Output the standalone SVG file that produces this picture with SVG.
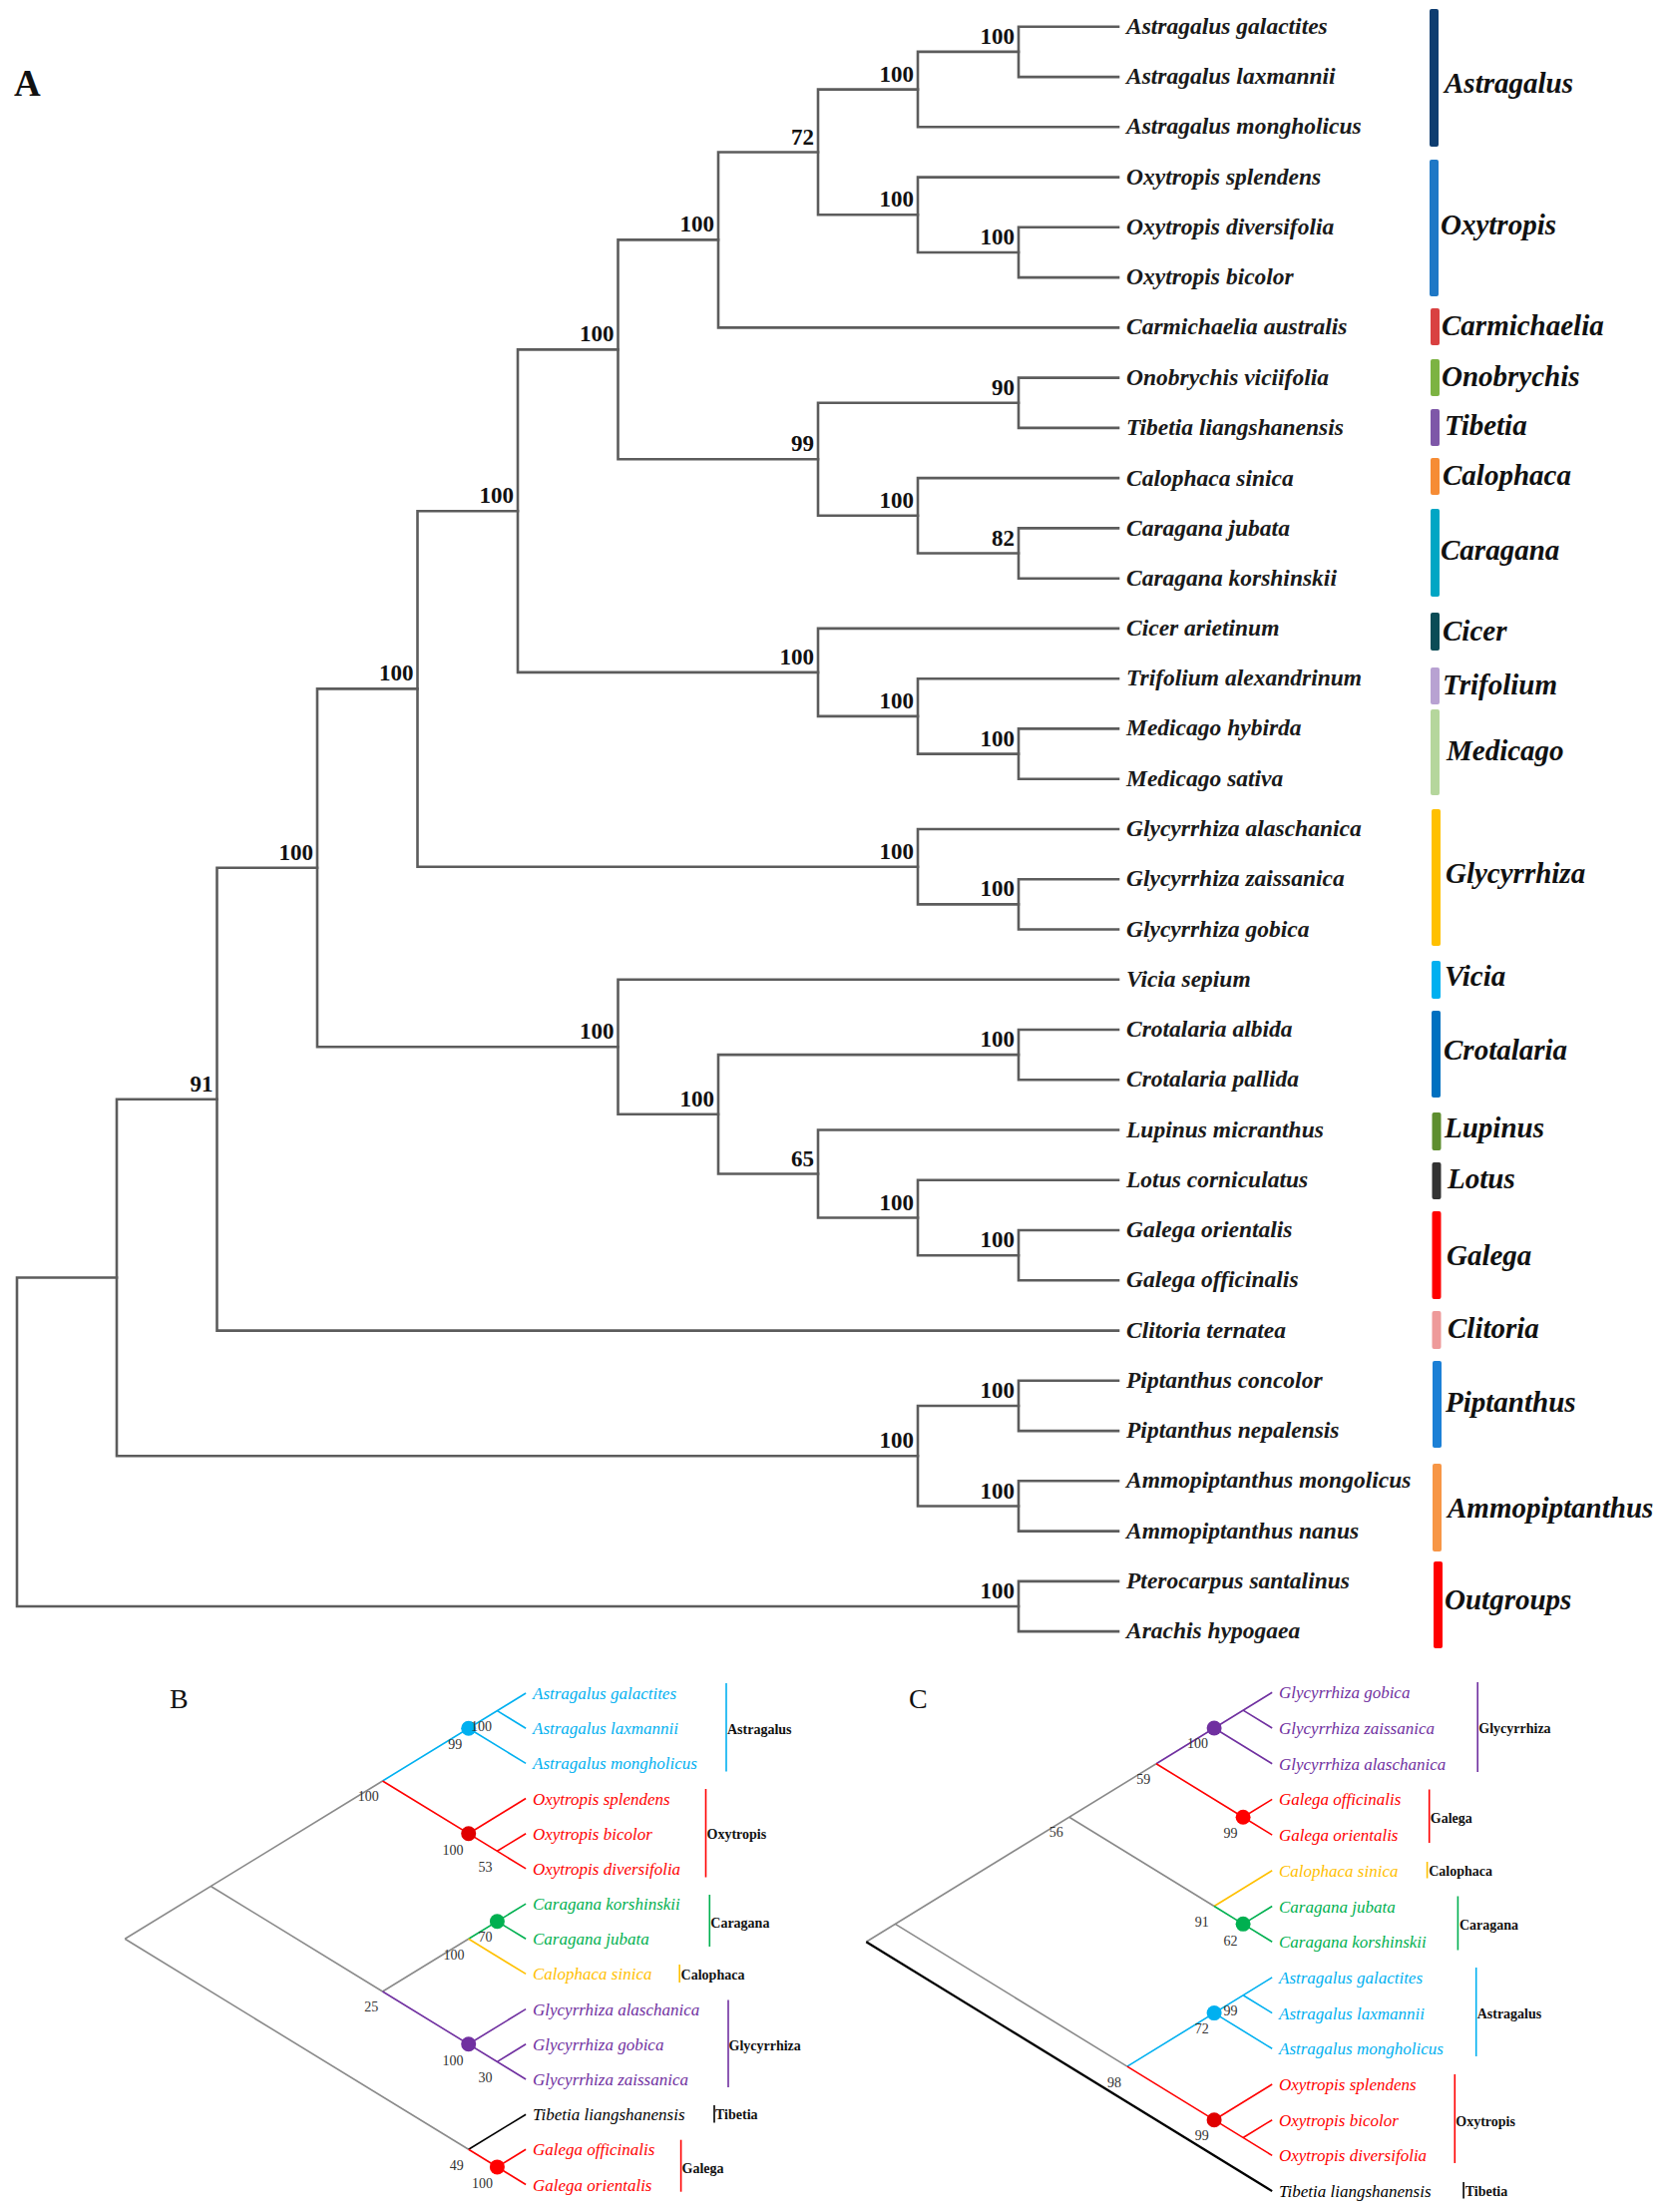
<svg xmlns="http://www.w3.org/2000/svg" width="1668" height="2217" viewBox="0 0 1668 2217">
<style>
.br{fill:none;stroke:#5c5c5c;stroke-width:2.6;stroke-linecap:square}
.bs{font-family:"Liberation Serif",serif;font-weight:bold;font-size:23px;fill:#111;text-anchor:end}
.sp{font-family:"Liberation Serif",serif;font-style:italic;font-weight:bold;font-size:23.5px;fill:#1a1a1a}
.gn{font-family:"Liberation Serif",serif;font-style:italic;font-weight:bold;font-size:29px;fill:#111}
.pl{font-family:"Liberation Serif",serif;font-size:28px;fill:#111}
.t{fill:none;stroke-width:1.6}
.gr{stroke:#8a8a8a}.bl{stroke:#00b0f0}.rd{stroke:#ff0000}.gn2{stroke:#00b050}.yl{stroke:#ffc000}.pu{stroke:#7030a0}.bk{stroke:#000}
.lf{font-family:"Liberation Serif",serif;font-style:italic;font-size:17px}
.fb{fill:#00b0f0}.fr{fill:#ff0000}.fg{fill:#00b050}.fy{fill:#ffc000}.fp{fill:#7030a0}.fk{fill:#000}
.bv{font-family:"Liberation Serif",serif;font-size:14px;fill:#333;text-anchor:middle}
.gl{font-family:"Liberation Serif",serif;font-weight:bold;font-size:14px;fill:#111}
.gb{stroke-width:1.6}
</style>
<rect width="1668" height="2217" fill="#fff"/>

<!-- ===== Panel A ===== -->
<g id="panel-A">
<text class="pl" x="14" y="96" style="font-weight:bold;font-size:37px">A</text>
<g id="A-connectors" class="br">
<path d="M1121 26.8H1021V77.1H1121"/>
<path d="M1021 51.9H920V127.3H1121"/>
<path d="M1121 227.8H1021V278.1H1121"/>
<path d="M1121 177.6H920V253H1021"/>
<path d="M920 89.6H820V215.3H920"/>
<path d="M820 152.5H720V328.4H1121"/>
<path d="M1121 378.6H1021V428.9H1121"/>
<path d="M1121 529.4H1021V579.7H1121"/>
<path d="M1121 479.1H920V554.5H1021"/>
<path d="M1021 403.8H820V516.8H920"/>
<path d="M720 240.4H619.5V460.3H820"/>
<path d="M1121 730.4H1021V780.7H1121"/>
<path d="M1121 680.2H920V755.6H1021"/>
<path d="M1121 629.9H820V717.9H920"/>
<path d="M619.5 350.4H519V673.9H820"/>
<path d="M1121 881.2H1021V931.5H1121"/>
<path d="M1121 831H920V906.4H1021"/>
<path d="M519 512.2H418.5V868.7H920"/>
<path d="M1121 1032H1021V1082.3H1121"/>
<path d="M1121 1233H1021V1283.3H1121"/>
<path d="M1121 1182.8H920V1258.2H1021"/>
<path d="M1121 1132.5H820V1220.5H920"/>
<path d="M1021 1057.1H720V1176.5H820"/>
<path d="M1121 981.7H619.5V1116.8H720"/>
<path d="M418.5 690.4H318V1049.3H619.5"/>
<path d="M318 869.8H217.5V1333.6H1121"/>
<path d="M1121 1383.8H1021V1434.1H1121"/>
<path d="M1121 1484.3H1021V1534.6H1121"/>
<path d="M1021 1409H920V1509.5H1021"/>
<path d="M217.5 1101.7H117V1459.2H920"/>
<path d="M1121 1584.9H1021V1635.1H1121"/>
<path d="M117 1280.5H17V1610H1021"/>
</g>
<g id="A-support">
<text class="bs" x="1017" y="43.9">100</text>
<text class="bs" x="916" y="81.6">100</text>
<text class="bs" x="1017" y="245">100</text>
<text class="bs" x="916" y="207.3">100</text>
<text class="bs" x="816" y="144.5">72</text>
<text class="bs" x="716" y="232.4">100</text>
<text class="bs" x="1017" y="395.8">90</text>
<text class="bs" x="1017" y="546.5">82</text>
<text class="bs" x="916" y="508.8">100</text>
<text class="bs" x="816" y="452.3">99</text>
<text class="bs" x="615.5" y="342.4">100</text>
<text class="bs" x="1017" y="747.6">100</text>
<text class="bs" x="916" y="709.9">100</text>
<text class="bs" x="816" y="665.9">100</text>
<text class="bs" x="515" y="504.2">100</text>
<text class="bs" x="1017" y="898.4">100</text>
<text class="bs" x="916" y="860.7">100</text>
<text class="bs" x="414.5" y="682.4">100</text>
<text class="bs" x="1017" y="1049.1">100</text>
<text class="bs" x="1017" y="1250.2">100</text>
<text class="bs" x="916" y="1212.5">100</text>
<text class="bs" x="816" y="1168.5">65</text>
<text class="bs" x="716" y="1108.8">100</text>
<text class="bs" x="615.5" y="1041.3">100</text>
<text class="bs" x="314" y="861.8">100</text>
<text class="bs" x="213.5" y="1093.7">91</text>
<text class="bs" x="1017" y="1401">100</text>
<text class="bs" x="1017" y="1501.5">100</text>
<text class="bs" x="916" y="1451.2">100</text>
<text class="bs" x="1017" y="1602">100</text>
</g>
<g id="A-leaves" class="sp">
<text id="A-leaf-0" x="1129" y="33.8">Astragalus galactites</text>
<text id="A-leaf-1" x="1129" y="84.1">Astragalus laxmannii</text>
<text id="A-leaf-2" x="1129" y="134.3">Astragalus mongholicus</text>
<text id="A-leaf-3" x="1129" y="184.6">Oxytropis splendens</text>
<text id="A-leaf-4" x="1129" y="234.8">Oxytropis diversifolia</text>
<text id="A-leaf-5" x="1129" y="285.1">Oxytropis bicolor</text>
<text id="A-leaf-6" x="1129" y="335.4">Carmichaelia australis</text>
<text id="A-leaf-7" x="1129" y="385.6">Onobrychis viciifolia</text>
<text id="A-leaf-8" x="1129" y="435.9">Tibetia liangshanensis</text>
<text id="A-leaf-9" x="1129" y="487.1">Calophaca sinica</text>
<text id="A-leaf-10" x="1129" y="537.4">Caragana jubata</text>
<text id="A-leaf-11" x="1129" y="586.7">Caragana korshinskii</text>
<text id="A-leaf-12" x="1129" y="636.9">Cicer arietinum</text>
<text id="A-leaf-13" x="1129" y="687.2">Trifolium alexandrinum</text>
<text id="A-leaf-14" x="1129" y="737.4">Medicago hybirda</text>
<text id="A-leaf-15" x="1129" y="787.7">Medicago sativa</text>
<text id="A-leaf-16" x="1129" y="838">Glycyrrhiza alaschanica</text>
<text id="A-leaf-17" x="1129" y="888.2">Glycyrrhiza zaissanica</text>
<text id="A-leaf-18" x="1129" y="938.5">Glycyrrhiza gobica</text>
<text id="A-leaf-19" x="1129" y="988.7">Vicia sepium</text>
<text id="A-leaf-20" x="1129" y="1039">Crotalaria albida</text>
<text id="A-leaf-21" x="1129" y="1089.3">Crotalaria pallida</text>
<text id="A-leaf-22" x="1129" y="1139.5">Lupinus micranthus</text>
<text id="A-leaf-23" x="1129" y="1189.8">Lotus corniculatus</text>
<text id="A-leaf-24" x="1129" y="1240">Galega orientalis</text>
<text id="A-leaf-25" x="1129" y="1290.3">Galega officinalis</text>
<text id="A-leaf-26" x="1129" y="1340.6">Clitoria ternatea</text>
<text id="A-leaf-27" x="1129" y="1390.8">Piptanthus concolor</text>
<text id="A-leaf-28" x="1129" y="1441.1">Piptanthus nepalensis</text>
<text id="A-leaf-29" x="1129" y="1491.3">Ammopiptanthus mongolicus</text>
<text id="A-leaf-30" x="1129" y="1541.6">Ammopiptanthus nanus</text>
<text id="A-leaf-31" x="1129" y="1591.9">Pterocarpus santalinus</text>
<text id="A-leaf-32" x="1129" y="1642.1">Arachis hypogaea</text>
</g>
<g id="A-genera">
<g id="A-g-Astragalus"><rect x="1433" y="9" width="9" height="138" rx="2" fill="#0e3d70"/><text class="gn" x="1448" y="93">Astragalus</text></g>
<g id="A-g-Oxytropis"><rect x="1433" y="160" width="9" height="137" rx="2" fill="#1f78c6"/><text class="gn" x="1444" y="235">Oxytropis</text></g>
<g id="A-g-Carmichaelia"><rect x="1434" y="309" width="9" height="37" rx="2" fill="#d94141"/><text class="gn" x="1445" y="336">Carmichaelia</text></g>
<g id="A-g-Onobrychis"><rect x="1434" y="360" width="9" height="37" rx="2" fill="#7cb342"/><text class="gn" x="1445" y="387">Onobrychis</text></g>
<g id="A-g-Tibetia"><rect x="1434" y="410" width="9" height="37" rx="2" fill="#7e57a8"/><text class="gn" x="1448" y="436">Tibetia</text></g>
<g id="A-g-Calophaca"><rect x="1434" y="459" width="9" height="37" rx="2" fill="#f68c35"/><text class="gn" x="1446" y="486">Calophaca</text></g>
<g id="A-g-Caragana"><rect x="1434" y="510" width="9" height="88" rx="2" fill="#00a6c4"/><text class="gn" x="1444" y="561">Caragana</text></g>
<g id="A-g-Cicer"><rect x="1434" y="614" width="9" height="38" rx="2" fill="#0b4c56"/><text class="gn" x="1446" y="642">Cicer</text></g>
<g id="A-g-Trifolium"><rect x="1434" y="669" width="9" height="37" rx="2" fill="#b8a2d2"/><text class="gn" x="1446" y="696">Trifolium</text></g>
<g id="A-g-Medicago"><rect x="1434" y="711" width="9" height="86" rx="2" fill="#b5d69c"/><text class="gn" x="1450" y="762">Medicago</text></g>
<g id="A-g-Glycyrrhiza"><rect x="1435" y="811" width="9" height="137" rx="2" fill="#ffc000"/><text class="gn" x="1449" y="885">Glycyrrhiza</text></g>
<g id="A-g-Vicia"><rect x="1435" y="963" width="9" height="38" rx="2" fill="#00b0f0"/><text class="gn" x="1448" y="988">Vicia</text></g>
<g id="A-g-Crotalaria"><rect x="1435" y="1013" width="9" height="87" rx="2" fill="#0070c0"/><text class="gn" x="1447" y="1062">Crotalaria</text></g>
<g id="A-g-Lupinus"><rect x="1435.5" y="1115" width="9" height="38" rx="2" fill="#5e8e2f"/><text class="gn" x="1448" y="1140">Lupinus</text></g>
<g id="A-g-Lotus"><rect x="1435.5" y="1165" width="9" height="37" rx="2" fill="#333"/><text class="gn" x="1451" y="1191">Lotus</text></g>
<g id="A-g-Galega"><rect x="1435.5" y="1214" width="9" height="88" rx="2" fill="#ff0000"/><text class="gn" x="1450" y="1268">Galega</text></g>
<g id="A-g-Clitoria"><rect x="1435.5" y="1314" width="9" height="38" rx="2" fill="#ee9a9a"/><text class="gn" x="1451" y="1341">Clitoria</text></g>
<g id="A-g-Piptanthus"><rect x="1436" y="1364" width="9" height="87" rx="2" fill="#1c80d6"/><text class="gn" x="1449" y="1415">Piptanthus</text></g>
<g id="A-g-Ammopiptanthus"><rect x="1436" y="1467" width="9" height="88" rx="2" fill="#f79646"/><text class="gn" x="1451" y="1521">Ammopiptanthus</text></g>
<g id="A-g-Outgroups"><rect x="1437" y="1565" width="9" height="87" rx="2" fill="#ff0000"/><text class="gn" x="1448" y="1613">Outgroups</text></g>
</g>
</g>

<!-- ===== Panel B ===== -->
<g id="panel-B">
<text class="pl" x="170" y="1712">B</text>
<g id="B-connectors" class="t">
<path class="gr" d="M125.2 1943.3L383.5 1784.95M211.3 1890.5L383.5 1996.05M125.2 1943.3L469.7 2154.3M383.5 1996.05L469.7 1943.3"/>
<path class="bl" d="M383.5 1784.95L527.1 1697M498.4 1714.6L527.1 1732.2M469.7 1732.2L527.1 1767.4"/>
<path class="rd" d="M383.5 1784.95L527.1 1872.9M469.7 1837.7L527.1 1802.5M498.4 1855.3L527.1 1837.7"/>
<path class="gn2" d="M469.7 1943.3L527.1 1908.1M498.4 1925.7L527.1 1943.3"/>
<path class="yl" d="M469.7 1943.3L527.1 1978.4"/>
<path class="pu" d="M383.5 1996.05L527.1 2084M469.7 2048.8L527.1 2013.6M498.4 2066.4L527.1 2048.8"/>
<path class="bk" d="M469.7 2154.3L527.1 2119.2"/>
<path class="rd" d="M469.7 2154.3L527.1 2189.5M498.4 2171.9L527.1 2154.3"/>
</g>
<g id="B-dots">
<circle cx="469.7" cy="1732.2" r="7.5" class="fb"/>
<circle cx="469.7" cy="1837.7" r="7.5" fill="#e00000"/>
<circle cx="498.4" cy="1925.7" r="7.5" class="fg"/>
<circle cx="469.7" cy="2048.8" r="7.5" class="fp"/>
<circle cx="498.4" cy="2171.9" r="7.5" class="fr"/>
</g>
<g id="B-support">
<text class="bv" x="369.3" y="1805">100</text>
<text class="bv" x="456.3" y="1752.6">99</text>
<text class="bv" x="482.6" y="1734.6">100</text>
<text class="bv" x="454" y="1858.6">100</text>
<text class="bv" x="486.5" y="1876.3">53</text>
<text class="bv" x="486.5" y="1946.1">70</text>
<text class="bv" x="455" y="1963.5">100</text>
<text class="bv" x="372.2" y="2015.9">25</text>
<text class="bv" x="454" y="2069.8">100</text>
<text class="bv" x="486.5" y="2087.1">30</text>
<text class="bv" x="457.8" y="2174.6">49</text>
<text class="bv" x="483.6" y="2192.7">100</text>
</g>
<g id="B-leaves" class="lf">
<text id="B-leaf-0" class="fb" x="534" y="1703">Astragalus galactites</text>
<text id="B-leaf-1" class="fb" x="534" y="1738.2">Astragalus laxmannii</text>
<text id="B-leaf-2" class="fb" x="534" y="1773.4">Astragalus mongholicus</text>
<text id="B-leaf-3" class="fr" x="534" y="1808.5">Oxytropis splendens</text>
<text id="B-leaf-4" class="fr" x="534" y="1843.7">Oxytropis bicolor</text>
<text id="B-leaf-5" class="fr" x="534" y="1878.9">Oxytropis diversifolia</text>
<text id="B-leaf-6" class="fg" x="534" y="1914.1">Caragana korshinskii</text>
<text id="B-leaf-7" class="fg" x="534" y="1949.3">Caragana jubata</text>
<text id="B-leaf-8" class="fy" x="534" y="1984.4">Calophaca sinica</text>
<text id="B-leaf-9" class="fp" x="534" y="2019.6">Glycyrrhiza alaschanica</text>
<text id="B-leaf-10" class="fp" x="534" y="2054.8">Glycyrrhiza gobica</text>
<text id="B-leaf-11" class="fp" x="534" y="2090">Glycyrrhiza zaissanica</text>
<text id="B-leaf-12" class="fk" x="534" y="2125.2">Tibetia liangshanensis</text>
<text id="B-leaf-13" class="fr" x="534" y="2160.3">Galega officinalis</text>
<text id="B-leaf-14" class="fr" x="534" y="2195.5">Galega orientalis</text>
</g>
<g id="B-genera" class="gb">
<g id="B-g-Astragalus"><path d="M728 1687V1775.5" class="bl"/><text class="gl" x="729" y="1738">Astragalus</text></g>
<g id="B-g-Oxytropis"><path d="M707.5 1793V1881.5" class="rd"/><text class="gl" x="708.5" y="1843">Oxytropis</text></g>
<g id="B-g-Caragana"><path d="M711.3 1899V1951" class="gn2"/><text class="gl" x="712.3" y="1931.5">Caragana</text></g>
<g id="B-g-Calophaca"><path d="M681.2 1969V1987" class="yl"/><text class="gl" x="682.6" y="1984">Calophaca</text></g>
<g id="B-g-Glycyrrhiza"><path d="M730 2004.5V2092" class="pu"/><text class="gl" x="730.5" y="2054.5">Glycyrrhiza</text></g>
<g id="B-g-Tibetia"><path d="M716 2110V2127.5" class="bk"/><text class="gl" x="717" y="2124.4">Tibetia</text></g>
<g id="B-g-Galega"><path d="M682.6 2144.7V2196.7" class="rd"/><text class="gl" x="683.5" y="2177.5">Galega</text></g>
</g>
</g>

<!-- ===== Panel C ===== -->
<g id="panel-C">
<text class="pl" x="911" y="1712">C</text>
<g id="C-connectors" class="t">
<path class="gr" d="M868.3 1946.2L1159 1767.7M1071.8 1821.25L1217.1 1910.5M897.4 1928.35L1129.9 2071.15"/>
<path class="bk" style="stroke-width:2.2" d="M868.3 1946.2L1275.2 2196.1"/>
<path class="pu" d="M1159 1767.7L1275.2 1696.3M1246.1 1714.15L1275.2 1732M1217.1 1732L1275.2 1767.7"/>
<path class="rd" d="M1159 1767.7L1246.1 1821.25L1275.2 1803.4M1246.1 1821.25L1275.2 1839.1"/>
<path class="yl" d="M1217.1 1910.5L1275.2 1874.8"/>
<path class="gn2" d="M1217.1 1910.5L1246.1 1928.35L1275.2 1910.5M1246.1 1928.35L1275.2 1946.2"/>
<path class="bl" d="M1129.9 2071.15L1275.2 1981.9M1246.1 1999.75L1275.2 2017.6M1217.1 2017.6L1275.2 2053.3"/>
<path class="rd" d="M1129.9 2071.15L1275.2 2160.4M1217.1 2124.7L1275.2 2089M1246.1 2142.55L1275.2 2124.7"/>
</g>
<g id="C-dots">
<circle cx="1217.1" cy="1732" r="7.5" class="fp"/>
<circle cx="1246.1" cy="1821.25" r="7.5" class="fr"/>
<circle cx="1246.1" cy="1928.35" r="7.5" class="fg"/>
<circle cx="1217.1" cy="2017.6" r="7.5" class="fb"/>
<circle cx="1217.1" cy="2124.7" r="7.5" fill="#e00000"/>
</g>
<g id="C-support">
<text class="bv" x="1200.6" y="1751.9">100</text>
<text class="bv" x="1146.3" y="1787.7">59</text>
<text class="bv" x="1058.7" y="1841.2">56</text>
<text class="bv" x="1233.4" y="1842">99</text>
<text class="bv" x="1204.7" y="1930.6">91</text>
<text class="bv" x="1233.4" y="1949.7">62</text>
<text class="bv" x="1233.4" y="2020.2">99</text>
<text class="bv" x="1204.7" y="2038.3">72</text>
<text class="bv" x="1117.1" y="2091.5">98</text>
<text class="bv" x="1204.7" y="2145">99</text>
</g>
<g id="C-leaves" class="lf">
<text id="C-leaf-0" class="fp" x="1282" y="1702.3">Glycyrrhiza gobica</text>
<text id="C-leaf-1" class="fp" x="1282" y="1738">Glycyrrhiza zaissanica</text>
<text id="C-leaf-2" class="fp" x="1282" y="1773.7">Glycyrrhiza alaschanica</text>
<text id="C-leaf-3" class="fr" x="1282" y="1809.4">Galega officinalis</text>
<text id="C-leaf-4" class="fr" x="1282" y="1845.1">Galega orientalis</text>
<text id="C-leaf-5" class="fy" x="1282" y="1880.8">Calophaca sinica</text>
<text id="C-leaf-6" class="fg" x="1282" y="1916.5">Caragana jubata</text>
<text id="C-leaf-7" class="fg" x="1282" y="1952.2">Caragana korshinskii</text>
<text id="C-leaf-8" class="fb" x="1282" y="1987.9">Astragalus galactites</text>
<text id="C-leaf-9" class="fb" x="1282" y="2023.6">Astragalus laxmannii</text>
<text id="C-leaf-10" class="fb" x="1282" y="2059.3">Astragalus mongholicus</text>
<text id="C-leaf-11" class="fr" x="1282" y="2095">Oxytropis splendens</text>
<text id="C-leaf-12" class="fr" x="1282" y="2130.7">Oxytropis bicolor</text>
<text id="C-leaf-13" class="fr" x="1282" y="2166.4">Oxytropis diversifolia</text>
<text id="C-leaf-14" class="fk" x="1282" y="2202.1">Tibetia liangshanensis</text>
</g>
<g id="C-genera" class="gb">
<g id="C-g-Glycyrrhiza"><path d="M1481.2 1686V1776" class="pu"/><text class="gl" x="1482.3" y="1737.4">Glycyrrhiza</text></g>
<g id="C-g-Galega"><path d="M1432.7 1793.5V1847" class="rd"/><text class="gl" x="1433.8" y="1826.8">Galega</text></g>
<g id="C-g-Calophaca"><path d="M1430.6 1866V1882.5" class="yl"/><text class="gl" x="1432.2" y="1880.3">Calophaca</text></g>
<g id="C-g-Caragana"><path d="M1461.4 1900.5V1954.5" class="gn2"/><text class="gl" x="1463" y="1934.2">Caragana</text></g>
<g id="C-g-Astragalus"><path d="M1479.7 1972V2061" class="bl"/><text class="gl" x="1480.7" y="2023">Astragalus</text></g>
<g id="C-g-Oxytropis"><path d="M1458.3 2079V2168" class="rd"/><text class="gl" x="1459.3" y="2130.5">Oxytropis</text></g>
<g id="C-g-Tibetia"><path d="M1467.1 2187V2203.5" class="bk"/><text class="gl" x="1468.7" y="2201">Tibetia</text></g>
</g>
</g>
</svg>
